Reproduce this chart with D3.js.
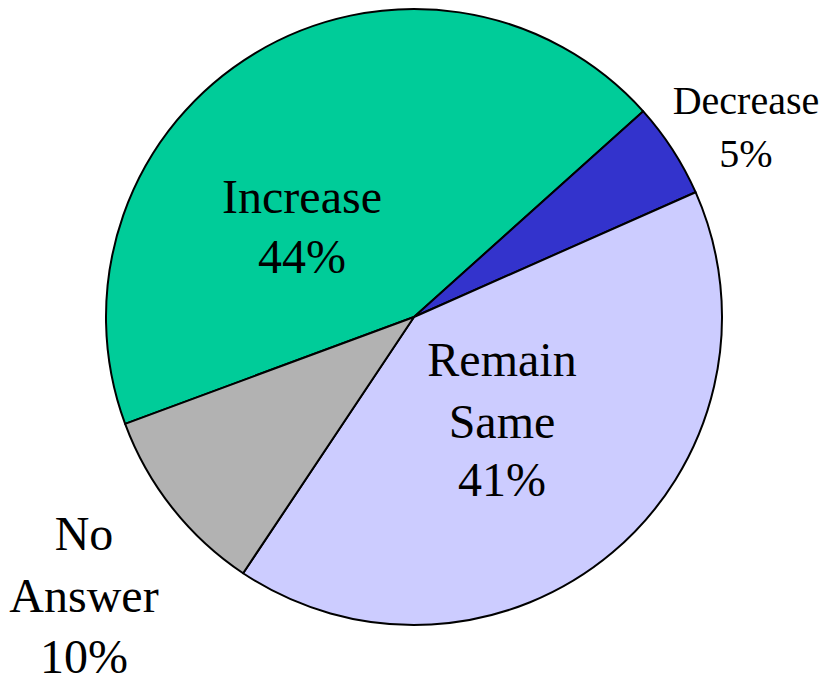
<!DOCTYPE html>
<html><head><meta charset="utf-8">
<script src="https://cdn.jsdelivr.net/npm/d3@7"></script>
</head><body style="margin:0">
<svg id="chart" width="827" height="679"></svg>
<script>
const categories = ["Increase", "Decrease", "Remain Same", "No Answer"];
const values = [44, 5, 41, 10];
const colors = ["#00CC99", "#3333CC", "#CCCCFF", "#B2B2B2"];
const labelLines = [["Increase", "44%"], ["Decrease", "5%"], ["Remain", "Same", "41%"], ["No", "Answer", "10%"]];

// layout (not data)
const cx = 414, cy = 317, R = 308;
const startDeg = -110.3;
const labelLayout = [
  {x: 302, ys: [213, 273], size: 48},
  {x: 746, ys: [114, 167], size: 40},
  {x: 502, ys: [376, 438, 496], size: 48},
  {x: 84, ys: [550, 612, 673], size: 48}
];

const svg = d3.select("#chart");
const data = categories.map((c, i) => ({cat: c, value: values[i], color: colors[i], i}));
const start = startDeg * Math.PI / 180;
const pie = d3.pie().value(d => d.value).sort(null).startAngle(start).endAngle(start + 2 * Math.PI);
const arc = d3.arc().innerRadius(0).outerRadius(R);
const g = svg.append("g").attr("transform", `translate(${cx},${cy})`);
g.selectAll("path").data(pie(data)).join("path")
  .attr("d", arc)
  .attr("fill", d => d.data.color)
  .attr("stroke", "#000")
  .attr("stroke-width", 2)
  .attr("stroke-linejoin", "round");

data.forEach((d, i) => {
  const L = labelLayout[i];
  labelLines[i].forEach((line, j) => {
    svg.append("text")
      .attr("x", L.x).attr("y", L.ys[j])
      .attr("text-anchor", "middle")
      .style("font-family", '"Tinos"')
      .style("font-size", L.size + "px")
      .style("fill", "#000")
      .text(line);
  });
});
</script>
</body></html>
